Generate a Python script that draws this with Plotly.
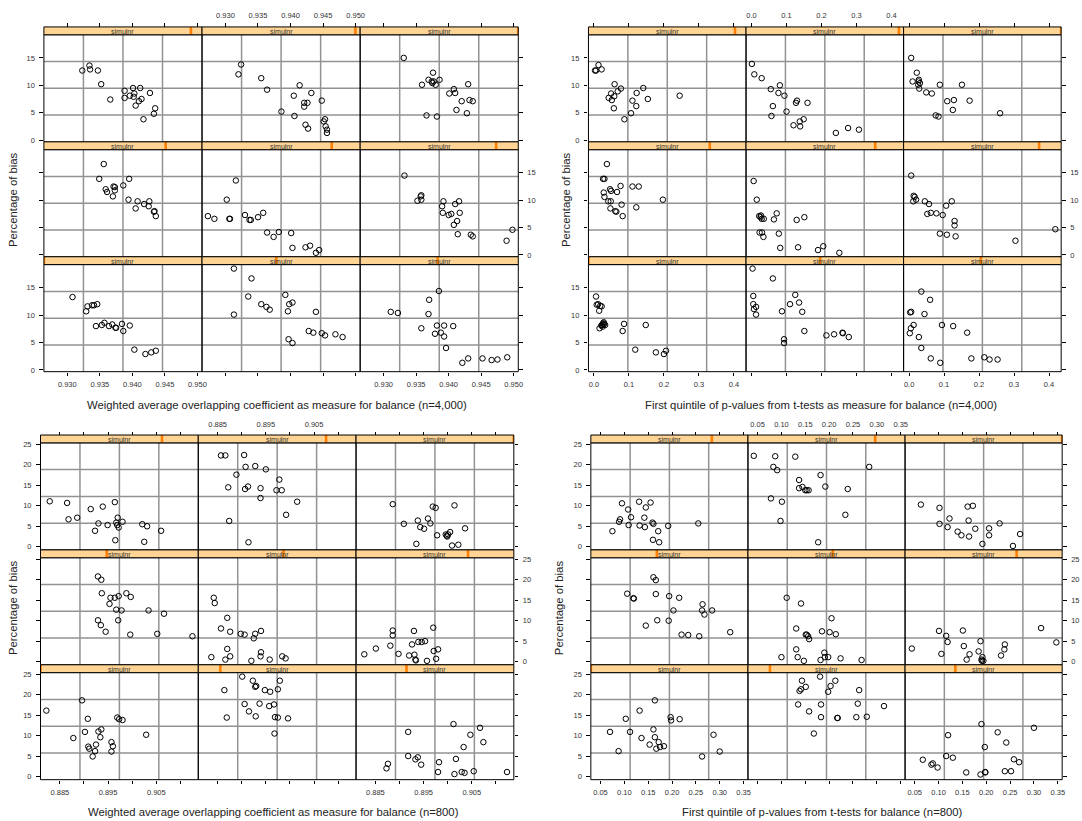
import plotly.graph_objects as go

W, H = 1082, 821
FONT = "Liberation Sans, Arial, Helvetica, sans-serif"

# ------------------------------------------------------------------ data
# Panels listed in display order: top row (left->right), middle row, bottom row.

# Weighted average overlapping coefficient, n=4,000
tl_x = [
    [0.9323, 0.9334, 0.9335, 0.9347, 0.9352, 0.9366, 0.9388, 0.9388, 0.9396, 0.9401,
     0.9402, 0.9403, 0.9405, 0.9410, 0.9412, 0.9414, 0.9417, 0.9427, 0.9433, 0.9435],
    [0.9320, 0.9324, 0.9355, 0.9364, 0.9386, 0.9405, 0.9406, 0.9414, 0.9421, 0.9421,
     0.9423, 0.9426, 0.9427, 0.9432, 0.9448, 0.9451, 0.9453, 0.9454, 0.9456, 0.9456],
    [0.9331, 0.9359, 0.9366, 0.9369, 0.9374, 0.9375, 0.9376, 0.9377, 0.9380, 0.9382,
     0.9386, 0.9401, 0.9408, 0.9410, 0.9412, 0.9420, 0.9428, 0.9430, 0.9432, 0.9437],
    [0.9349, 0.9356, 0.9359, 0.9361, 0.9370, 0.9371, 0.9373, 0.9373, 0.9386, 0.9394,
     0.9395, 0.9405, 0.9408, 0.9418, 0.9425, 0.9426, 0.9433, 0.9434, 0.9436],
    [0.9273, 0.9283, 0.9302, 0.9306, 0.9307, 0.9316, 0.9330, 0.9337, 0.9339, 0.9350,
     0.9358, 0.9364, 0.9374, 0.9382, 0.9401, 0.9403, 0.9423, 0.9430, 0.9439, 0.9444],
    [0.9332, 0.9352, 0.9357, 0.9358, 0.9358, 0.9390, 0.9391, 0.9392, 0.9400, 0.9404,
     0.9408, 0.9410, 0.9413, 0.9414, 0.9416, 0.9417, 0.9434, 0.9437, 0.9489, 0.9498],
    [0.9308, 0.9329, 0.9331, 0.9338, 0.9341, 0.9346, 0.9344, 0.9353, 0.9357, 0.9364,
     0.9369, 0.9374, 0.9375, 0.9384, 0.9386, 0.9396, 0.9403, 0.9420, 0.9429, 0.9436],
    [0.9313, 0.9313, 0.9335, 0.9340, 0.9355, 0.9363, 0.9368, 0.9392, 0.9396, 0.9398,
     0.9403, 0.9397, 0.9403, 0.9439, 0.9428, 0.9435, 0.9448, 0.9453, 0.9469, 0.9480],
    [0.9311, 0.9322, 0.9358, 0.9370, 0.9369, 0.9379, 0.9382, 0.9385, 0.9388, 0.9393,
     0.9393, 0.9396, 0.9407, 0.9421, 0.9430, 0.9466, 0.9475, 0.9490, 0.9452],
]
tl_y = [
    [12.7, 13.6, 12.9, 12.7, 10.2, 7.4, 9.0, 7.7, 8.1, 9.5, 7.9, 8.5, 6.3, 7.1, 9.5, 7.5, 3.8, 8.6, 4.8, 5.8],
    [12.0, 13.8, 11.3, 9.2, 5.2, 8.1, 4.4, 10.0, 6.8, 6.1, 2.8, 6.8, 2.1, 8.6, 7.2, 3.4, 3.8, 2.5, 1.9, 1.3],
    [15.0, 10.1, 4.5, 11.0, 10.7, 10.4, 12.3, 10.7, 10.1, 4.3, 11.0, 8.5, 9.3, 8.6, 5.5, 7.1, 4.9, 10.2, 7.3, 7.1],
    [13.9, 16.6, 12.0, 11.5, 10.7, 12.5, 11.8, 12.4, 12.7, 10.1, 13.9, 8.5, 9.8, 9.3, 8.9, 9.8, 7.9, 8.0, 7.1],
    [7.1, 6.6, 10.1, 6.6, 6.6, 13.6, 7.3, 6.4, 6.4, 6.9, 7.7, 4.1, 3.3, 4.2, 4.0, 1.3, 1.4, 1.7, 0.4, 0.9],
    [14.5, 9.9, 10.7, 10.1, 10.9, 8.9, 7.7, 9.8, 7.3, 7.5, 5.5, 9.3, 6.2, 3.8, 9.8, 7.7, 3.7, 3.4, 2.6, 4.6],
    [13.3, 10.7, 11.6, 11.8, 11.8, 12.0, 8.0, 8.2, 8.6, 8.0, 8.3, 7.7, 7.7, 8.4, 7.1, 8.1, 3.7, 2.9, 3.2, 3.5],
    [18.5, 10.1, 13.4, 16.7, 12.0, 11.5, 11.0, 13.7, 10.7, 12.0, 12.3, 5.6, 4.9, 10.6, 7.1, 6.8, 6.7, 6.3, 6.5, 6.0],
    [10.6, 10.4, 7.6, 12.8, 10.2, 6.6, 8.1, 14.4, 6.8, 8.1, 6.1, 4.0, 8.0, 1.3, 2.1, 1.8, 1.9, 2.3, 2.1],
]

# First quintile of p-values from t-tests, n=4,000
tr_x = [
    [0.003, 0.006, 0.013, 0.022, 0.059, 0.049, 0.051, 0.058, 0.057, 0.068,
     0.077, 0.087, 0.106, 0.110, 0.121, 0.122, 0.141, 0.154, 0.245, 0.042],
    [0.001, 0.008, 0.029, 0.055, 0.061, 0.057, 0.077, 0.081, 0.094, 0.100,
     0.120, 0.127, 0.130, 0.138, 0.139, 0.149, 0.160, 0.241, 0.276, 0.307],
    [0.006, 0.010, 0.022, 0.026, 0.028, 0.029, 0.031, 0.049, 0.065, 0.076,
     0.084, 0.088, 0.109, 0.125, 0.128, 0.151, 0.173, 0.260, 0.027],
    [0.037, 0.026, 0.030, 0.028, 0.030, 0.046, 0.049, 0.066, 0.076, 0.041,
     0.048, 0.047, 0.061, 0.064, 0.079, 0.082, 0.110, 0.128, 0.121, 0.197],
    [0.006, 0.015, 0.022, 0.026, 0.029, 0.035, 0.023, 0.030, 0.034, 0.064,
     0.072, 0.078, 0.082, 0.129, 0.133, 0.151, 0.190, 0.205, 0.251, 0.027],
    [0.006, 0.013, 0.016, 0.020, 0.012, 0.045, 0.057, 0.052, 0.062, 0.078,
     0.096, 0.106, 0.122, 0.088, 0.108, 0.130, 0.130, 0.133, 0.304, 0.418],
    [0.006, 0.008, 0.012, 0.015, 0.018, 0.022, 0.016, 0.021, 0.025, 0.028,
     0.029, 0.032, 0.023, 0.026, 0.086, 0.082, 0.118, 0.177, 0.200, 0.206, 0.148],
    [0.003, 0.061, 0.005, 0.005, 0.007, 0.013, 0.013, 0.087, 0.110, 0.125,
     0.136, 0.145, 0.151, 0.093, 0.093, 0.214, 0.236, 0.260, 0.261, 0.278],
    [0.035, 0.060, 0.003, 0.006, 0.013, 0.005, 0.002, 0.028, 0.035, 0.044,
     0.062, 0.089, 0.094, 0.126, 0.166, 0.178, 0.215, 0.230, 0.253],
]
tr_y = [
    [12.7, 12.7, 13.7, 12.9, 10.2, 8.5, 7.3, 8.0, 5.8, 8.9, 9.4, 3.8, 4.9, 7.2, 6.2, 8.6, 9.5, 7.5, 8.1, 7.7],
    [13.9, 12.0, 11.3, 9.3, 6.2, 4.4, 8.6, 10.0, 8.1, 5.2, 2.7, 6.8, 7.2, 3.4, 2.5, 3.8, 6.8, 1.3, 2.2, 1.9],
    [15.0, 10.7, 12.3, 10.1, 11.0, 9.4, 10.4, 8.7, 8.5, 4.5, 4.3, 10.1, 7.1, 5.5, 7.3, 10.1, 7.2, 4.9, 10.7],
    [16.6, 13.9, 13.9, 11.4, 10.6, 12.0, 11.7, 11.5, 12.6, 9.8, 9.8, 8.5, 8.0, 7.9, 9.2, 7.1, 12.5, 12.5, 8.7, 10.1],
    [13.5, 10.1, 7.1, 6.9, 6.6, 6.6, 4.1, 4.1, 3.3, 6.5, 7.6, 3.9, 1.3, 6.4, 1.4, 6.9, 0.9, 1.6, 0.4, 7.2],
    [14.5, 10.8, 10.6, 10.1, 9.8, 9.8, 9.3, 7.5, 7.7, 7.6, 7.3, 9.0, 9.8, 3.9, 3.7, 6.2, 5.4, 3.4, 2.6, 4.7],
    [13.4, 11.9, 12.0, 10.8, 11.7, 11.6, 7.6, 8.1, 7.9, 8.7, 8.4, 8.2, 8.2, 8.5, 8.4, 7.1, 3.7, 3.2, 2.9, 3.5, 8.2],
    [18.5, 16.7, 13.5, 12.0, 11.1, 11.5, 10.1, 10.7, 12.0, 13.7, 12.3, 10.6, 7.1, 5.6, 4.9, 6.3, 6.5, 6.8, 6.7, 6.0],
    [14.3, 12.8, 10.5, 10.6, 8.2, 7.6, 6.7, 6.0, 4.0, 10.2, 2.1, 1.3, 8.2, 8.0, 6.8, 2.1, 2.3, 1.9, 1.9],
]

# Weighted average overlapping coefficient, n=800
bl_x = [
    [0.8829, 0.8865, 0.8868, 0.8886, 0.8914, 0.8939, 0.8930, 0.8923, 0.8949, 0.8964,
     0.8970, 0.8967, 0.8972, 0.8969, 0.8980, 0.8965, 0.9021, 0.9031, 0.9060, 0.9025],
    [0.8857, 0.8866, 0.8905, 0.8889, 0.8908, 0.8928, 0.8950, 0.8872, 0.8913, 0.8907,
     0.8939, 0.8939, 0.8972, 0.8978, 0.8983, 0.9015, 0.8992, 0.8874, 0.8914],
    [0.8886, 0.8909, 0.8938, 0.8943, 0.8951, 0.8959, 0.8964, 0.8969, 0.8975, 0.8978,
     0.8996, 0.8998, 0.8999, 0.9005, 0.9014, 0.9036, 0.9009, 0.9022, 0.8935, 0.9001],
    [0.8929, 0.8936, 0.8937, 0.8953, 0.8955, 0.8964, 0.8972, 0.8967, 0.8978, 0.8988,
     0.8997, 0.8929, 0.8935, 0.8945, 0.8971, 0.8996, 0.9034, 0.9066, 0.9052, 0.9125],
    [0.8842, 0.8844, 0.8870, 0.8857, 0.8876, 0.8898, 0.8906, 0.8928, 0.8925, 0.8940,
     0.8870, 0.8837, 0.8866, 0.8876, 0.8920, 0.8939, 0.8940, 0.8958, 0.8984, 0.8991],
    [0.8827, 0.8851, 0.8881, 0.8886, 0.8886, 0.8898, 0.8920, 0.8926, 0.8930, 0.8931,
     0.8933, 0.8934, 0.8939, 0.8946, 0.8953, 0.8957, 0.8970, 0.8971, 0.8976, 0.8980],
    [0.8822, 0.8878, 0.8896, 0.8902, 0.8908, 0.8909, 0.8911, 0.8918, 0.8923, 0.8925,
     0.8930, 0.8934, 0.8936, 0.8957, 0.8957, 0.8960, 0.8969, 0.8973, 0.8980, 0.9029],
    [0.8864, 0.8869, 0.8901, 0.8906, 0.8915, 0.8923, 0.8928, 0.8930, 0.8929, 0.8937,
     0.8948, 0.8957, 0.8959, 0.8967, 0.8968, 0.8969, 0.8975, 0.8975, 0.8979, 0.8996],
    [0.8873, 0.8876, 0.8918, 0.8918, 0.8933, 0.8938, 0.8945, 0.8980, 0.8982, 0.9012,
     0.9014, 0.9017, 0.9029, 0.9033, 0.9035, 0.9047, 0.9054, 0.9067, 0.9074, 0.9123],
]
bl_y = [
    [11.1, 10.7, 6.7, 7.1, 9.2, 9.8, 5.7, 3.9, 5.3, 10.9, 7.1, 5.9, 4.7, 5.3, 6.1, 1.6, 5.5, 5.0, 3.9, 1.2],
    [22.3, 22.3, 22.4, 17.6, 19.5, 19.7, 18.9, 14.5, 14.7, 14.1, 14.3, 11.9, 13.8, 16.4, 13.8, 11.0, 7.8, 6.3, 1.1],
    [10.4, 5.6, 6.4, 4.8, 4.4, 6.9, 5.7, 9.8, 9.5, 2.8, 3.0, 2.7, 2.5, 3.6, 10.1, 4.5, 0.3, 0.5, 0.7, 3.0],
    [20.8, 20.0, 16.7, 14.1, 15.6, 15.6, 16.0, 12.7, 12.5, 16.7, 15.8, 10.1, 8.9, 7.3, 10.1, 6.6, 12.5, 11.7, 6.8, 6.2],
    [15.6, 14.3, 10.7, 8.1, 7.3, 6.8, 6.6, 6.8, 5.7, 7.5, 3.1, 1.1, 0.5, 1.3, 0.2, 1.3, 2.3, 0.5, 1.3, 0.8],
    [1.8, 3.2, 3.9, 7.6, 6.4, 1.9, 1.5, 4.2, 7.5, 1.7, 0.5, 0.3, 4.8, 4.8, 5.0, 0.2, 8.3, 2.6, 0.7, 3.0],
    [16.1, 9.4, 18.6, 10.9, 14.1, 7.3, 6.8, 4.9, 6.2, 7.8, 11.0, 9.6, 11.5, 8.4, 6.1, 7.4, 14.4, 14.0, 13.8, 10.2],
    [21.1, 14.4, 24.4, 17.7, 15.9, 23.4, 21.9, 22.1, 14.7, 17.8, 21.1, 17.2, 20.7, 17.6, 10.5, 14.5, 21.3, 14.4, 23.4, 14.2],
    [2.0, 3.1, 10.9, 5.0, 4.2, 4.7, 2.9, 1.1, 3.5, 12.8, 0.6, 4.3, 1.1, 7.2, 0.9, 10.2, 1.3, 11.9, 8.4, 1.1],
]

# First quintile of p-values from t-tests, n=800
br_x = [
    [0.075, 0.091, 0.089, 0.095, 0.108, 0.109, 0.114, 0.131, 0.132, 0.142,
     0.143, 0.145, 0.155, 0.161, 0.159, 0.160, 0.171, 0.173, 0.192, 0.255],
    [0.042, 0.087, 0.129, 0.083, 0.091, 0.078, 0.101, 0.098, 0.137, 0.137,
     0.144, 0.150, 0.153, 0.157, 0.182, 0.192, 0.177, 0.234, 0.239, 0.284],
    [0.063, 0.102, 0.102, 0.119, 0.123, 0.140, 0.148, 0.161, 0.163, 0.164,
     0.172, 0.177, 0.192, 0.206, 0.206, 0.228, 0.256, 0.271],
    [0.106, 0.119, 0.120, 0.145, 0.161, 0.166, 0.166, 0.169, 0.193, 0.194,
     0.203, 0.215, 0.220, 0.234, 0.257, 0.264, 0.263, 0.268, 0.284, 0.322],
    [0.111, 0.141, 0.131, 0.131, 0.134, 0.147, 0.151, 0.153, 0.156, 0.158, 0.100,
     0.185, 0.190, 0.191, 0.182, 0.198, 0.201, 0.205, 0.214, 0.224, 0.268],
    [0.044, 0.101, 0.106, 0.116, 0.119, 0.151, 0.153, 0.159, 0.165, 0.184,
     0.188, 0.190, 0.191, 0.192, 0.194, 0.231, 0.238, 0.239, 0.315, 0.347],
    [0.070, 0.088, 0.103, 0.112, 0.132, 0.136, 0.153, 0.161, 0.164, 0.164,
     0.167, 0.172, 0.175, 0.183, 0.197, 0.198, 0.216, 0.263, 0.287, 0.300],
    [0.135, 0.138, 0.141, 0.143, 0.151, 0.158, 0.168, 0.183, 0.183, 0.198,
     0.203, 0.213, 0.217, 0.218, 0.257, 0.260, 0.263, 0.279, 0.315, 0.181],
    [0.067, 0.085, 0.088, 0.098, 0.116, 0.120, 0.130, 0.158, 0.188, 0.190,
     0.197, 0.198, 0.198, 0.224, 0.239, 0.242, 0.252, 0.258, 0.269, 0.300],
]
br_y = [
    [3.8, 6.7, 6.1, 10.6, 9.1, 5.3, 7.2, 11.0, 5.2, 7.1, 4.8, 9.6, 10.8, 5.6, 5.9, 1.7, 3.8, 1.1, 5.1, 5.7],
    [22.2, 22.1, 22.0, 19.5, 18.7, 11.8, 11.0, 6.3, 16.3, 14.3, 14.6, 13.8, 13.8, 13.8, 17.5, 14.7, 1.1, 7.8, 14.1, 19.5],
    [10.3, 9.5, 5.6, 4.8, 6.9, 3.7, 2.8, 9.8, 6.4, 2.5, 10.0, 4.4, 0.7, 4.5, 2.8, 5.7, 0.2, 3.1],
    [16.6, 15.5, 15.4, 8.8, 20.6, 19.9, 16.5, 10.1, 10.0, 16.0, 12.5, 15.6, 6.6, 6.5, 6.2, 14.0, 12.5, 11.5, 12.5, 7.2],
    [15.6, 14.2, 8.1, 3.0, 1.1, 0.2, 6.6, 6.6, 6.2, 5.5, 1.1, 7.4, 2.2, 1.1, 0.4, 1.1, 7.2, 10.6, 6.7, 0.8, 0.4],
    [3.2, 7.5, 1.9, 6.3, 4.8, 7.6, 3.8, 0.5, 1.8, 2.5, 5.0, 0.5, 0.2, 1.1, 0.2, 1.5, 3.0, 4.2, 8.2, 4.7],
    [10.9, 6.2, 14.1, 10.9, 16.1, 9.4, 7.8, 11.5, 18.6, 9.6, 6.8, 8.4, 7.2, 7.4, 14.5, 13.7, 14.0, 4.9, 10.2, 6.1],
    [17.6, 20.9, 21.3, 23.4, 21.9, 15.9, 10.5, 17.6, 14.5, 20.7, 22.1, 23.4, 14.3, 14.3, 14.5, 17.8, 21.1, 14.6, 17.2, 24.4],
    [4.1, 2.9, 3.2, 2.2, 5.0, 10.1, 4.6, 1.0, 0.5, 12.8, 7.2, 1.0, 1.1, 10.8, 1.3, 8.3, 1.3, 4.2, 3.5, 11.9],
]

# shingle level position of each panel (fraction of the simulnr range)
top_levels = [0.93, 0.97, 1.00, 0.77, 0.82, 0.86, 0.00, 0.47, 0.49]
bot_levels = [0.77, 0.81, 1.00, 0.42, 0.54, 0.71, 0.00, 0.14, 0.32]

tl_xticks = [0.930, 0.935, 0.940, 0.945, 0.950]
tl_xlabels = ["0.930", "0.935", "0.940", "0.945", "0.950"]
tr_xticks = [0.0, 0.1, 0.2, 0.3, 0.4]
tr_xlabels = ["0.0", "0.1", "0.2", "0.3", "0.4"]
bl_xticks = [0.885, 0.890, 0.895, 0.900, 0.905, 0.910]
bl_xlabels = ["0.885", "", "0.895", "", "0.905", ""]
br_xticks = [0.05, 0.10, 0.15, 0.20, 0.25, 0.30, 0.35]
br_xlabels = ["0.05", "0.10", "0.15", "0.20", "0.25", "0.30", "0.35"]
top_yticks = [0, 5, 10, 15]
bot_yticks = [0, 5, 10, 15, 20, 25]

strip_label = "simulnr"
y_title = "Percentage of bias"
x_titles = [
    "Weighted average overlapping coefficient as measure for balance (n=4,000)",
    "First quintile of p-values from t-tests as measure for balance (n=4,000)",
    "Weighted average overlapping coefficient as measure for balance (n=800)",
    "First quintile of p-values from t-tests for balance (n=800)",
]

# ------------------------------------------------------------------ layout geometry (pixels)
charts = [
    dict(xs=tl_x, ys=tl_y, lv=top_levels, xt=tl_xticks, xl=tl_xlabels, yt=top_yticks,
         left=44.1, right=520.7, top=24.1, bottom=371.4, ytx=13.8, xty=405),
    dict(xs=tr_x, ys=tr_y, lv=top_levels, xt=tr_xticks, xl=tr_xlabels, yt=top_yticks,
         left=591.2, right=1066.1, top=24.1, bottom=371.4, ytx=569.3, xty=405),
    dict(xs=bl_x, ys=bl_y, lv=bot_levels, xt=bl_xticks, xl=bl_xlabels, yt=bot_yticks,
         left=40.7, right=516.2, top=435.2, bottom=782.4, ytx=13.8, xty=815),
    dict(xs=br_x, ys=br_y, lv=bot_levels, xt=br_xticks, xl=br_xlabels, yt=bot_yticks,
         left=593.6, right=1067.1, top=435.2, bottom=782.4, ytx=562.4, xty=815),
]
STRIP = 7.9
STRIP_BG = "#FFD494"
SHINGLE = "#FF7F00"
GRID = "#929292"
TICKFONT = dict(family=FONT, size=7.5, color="#333333")


def X(p):
    return p / W


def Y(p):
    return 1 - p / H


def padded(vals):
    lo, hi = min(vals), max(vals)
    d = hi - lo
    return [lo - 0.04 * d, hi + 0.04 * d]


fig = go.Figure()
layout = {}
shapes = []
annotations = []
n = 0
for ci, ch in enumerate(charts):
    xr = padded([v for lst in ch["xs"] for v in lst])
    yr = padded([v for lst in ch["ys"] for v in lst])
    colw = (ch["right"] - ch["left"]) / 3
    unit = (ch["bottom"] - ch["top"]) / 3
    for r in range(3):
        for c in range(3):
            n += 1
            k = r * 3 + c
            sfx = "" if n == 1 else str(n)
            x0 = ch["left"] + c * colw
            x1 = x0 + colw
            st = ch["top"] + r * unit
            sb = st + STRIP
            pb = st + unit

            xa = dict(domain=[X(x0), X(x1)], range=xr, showgrid=False, zeroline=False,
                      showline=False, fixedrange=True, tickvals=ch["xt"], ticktext=ch["xl"],
                      tickfont=TICKFONT, ticklen=3.5, tickwidth=1, tickcolor="black",
                      ticklabelstandoff=2)
            if r == 2:
                xa.update(anchor="y" + sfx, side="bottom", ticks="outside",
                          showticklabels=(c != 1))
            elif r == 0:
                xa.update(anchor="free", position=Y(st), side="top", ticks="outside",
                          showticklabels=(c == 1))
            else:
                xa.update(anchor="y" + sfx, ticks="", showticklabels=False)

            ya = dict(domain=[Y(pb), Y(sb)], range=yr, showgrid=False, zeroline=False,
                      showline=False, fixedrange=True, tickvals=ch["yt"],
                      tickfont=TICKFONT, ticklen=3.5, tickwidth=1, tickcolor="black",
                      anchor="x" + sfx, ticklabelstandoff=3)
            if c == 0:
                ya.update(side="left", ticks="outside", showticklabels=(r != 1))
            elif c == 2:
                ya.update(side="right", ticks="outside", showticklabels=(r == 1))
            else:
                ya.update(ticks="", showticklabels=False)

            layout["xaxis" + sfx] = xa
            layout["yaxis" + sfx] = ya

            fig.add_trace(go.Scatter(
                x=ch["xs"][k], y=ch["ys"][k], mode="markers", xaxis="x" + sfx, yaxis="y" + sfx,
                showlegend=False, hoverinfo="skip",
                marker=dict(symbol="circle-open", size=5.5, color="black",
                            line=dict(width=1, color="black"))))

            # grid at quarters of the panel
            for f in (0.25, 0.5, 0.75):
                shapes.append(dict(type="line", xref="x%s domain" % sfx, yref="y%s domain" % sfx,
                                   x0=f, x1=f, y0=0, y1=1, layer="below",
                                   line=dict(color=GRID, width=1.5)))
                shapes.append(dict(type="line", xref="x%s domain" % sfx, yref="y%s domain" % sfx,
                                   x0=0, x1=1, y0=f, y1=f, layer="below",
                                   line=dict(color=GRID, width=1.5)))
            # panel border
            shapes.append(dict(type="rect", xref="paper", yref="paper",
                               x0=X(x0), x1=X(x1), y0=Y(pb), y1=Y(sb), layer="above",
                               line=dict(color="black", width=1)))
            # strip
            shapes.append(dict(type="rect", xref="paper", yref="paper",
                               x0=X(x0), x1=X(x1), y0=Y(sb), y1=Y(st), layer="above",
                               fillcolor=STRIP_BG, line=dict(width=0)))
            bx = x0 + ch["lv"][k] * colw
            bx0 = max(x0, bx - 1.3)
            bx1 = min(x1, bx + 1.3)
            shapes.append(dict(type="rect", xref="paper", yref="paper",
                               x0=X(bx0), x1=X(bx1), y0=Y(sb), y1=Y(st), layer="above",
                               fillcolor=SHINGLE, line=dict(width=0)))
            shapes.append(dict(type="rect", xref="paper", yref="paper",
                               x0=X(x0), x1=X(x1), y0=Y(sb), y1=Y(st), layer="above",
                               line=dict(color="black", width=1)))
            annotations.append(dict(text=strip_label, xref="paper", yref="paper",
                                    x=X((x0 + x1) / 2), y=Y((st + sb) / 2 + 0.5),
                                    showarrow=False, xanchor="center", yanchor="middle",
                                    font=dict(family=FONT, size=7, color="#333333")))

    # axis titles
    annotations.append(dict(text=x_titles[ci], xref="paper", yref="paper",
                            x=X((ch["left"] + ch["right"]) / 2 - 4), y=Y(ch["xty"]),
                            showarrow=False, xanchor="center", yanchor="middle",
                            font=dict(family=FONT, size=11.3, color="#222222")))
    annotations.append(dict(text=y_title, xref="paper", yref="paper", textangle=-90,
                            x=X(ch["ytx"]), y=Y((ch["top"] + ch["bottom"]) / 2),
                            showarrow=False, xanchor="center", yanchor="middle",
                            font=dict(family=FONT, size=11.3, color="#222222")))

fig.update_layout(
    width=W, height=H, autosize=False,
    margin=dict(l=0, r=0, t=0, b=0, pad=0),
    paper_bgcolor="white", plot_bgcolor="white",
    font=dict(family=FONT, color="#222222"),
    shapes=shapes, annotations=annotations,
    **layout,
)
fig.write_html("out.html")
